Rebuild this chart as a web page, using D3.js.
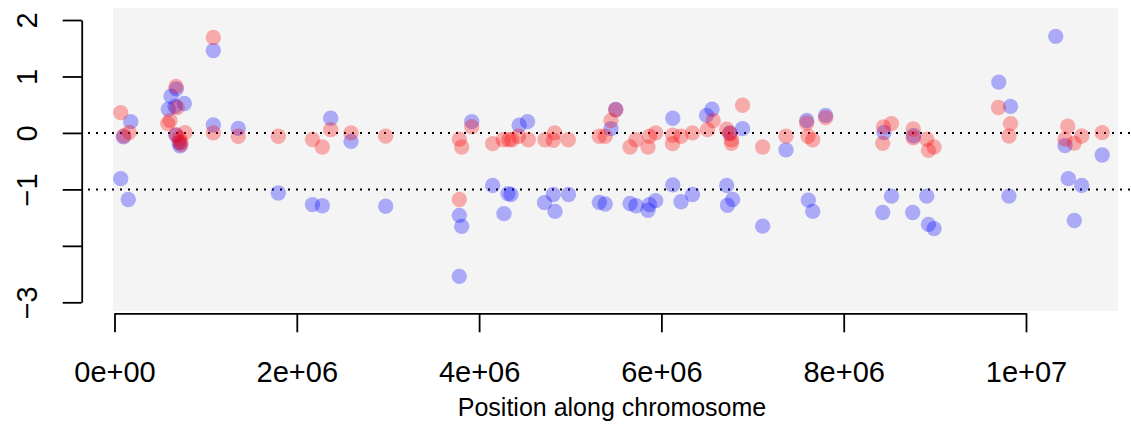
<!DOCTYPE html>
<html>
<head>
<meta charset="utf-8">
<script src="https://cdn.jsdelivr.net/npm/d3@7"></script>
<style>
  body { margin: 0; background: #fff; }
  text { font-family: "Liberation Sans", Arial, Helvetica, sans-serif; fill: #000; }
</style>
</head>
<body>
<script>
// positions are in Mb (multiplied by 1e6 when plotted)
const blueX = [0.068,0.151,0.178,0.097,0.678,0.620,0.590,0.766,0.664,0.719,0.708,0.675,1.084,1.084,1.358,1.797,
  2.172,2.280,2.372,2.595,2.975,3.783,3.809,3.783,3.919,4.149,4.317,4.350,4.273,4.440,4.531,4.718,4.814,4.833,4.981,
  5.319,5.383,5.447,5.499,5.656,5.721,5.853,5.869,5.937,6.125,6.125,6.215,6.341,6.495,6.555,6.750,6.716,6.725,6.782,
  6.890,7.111,7.367,7.594,7.612,7.660,7.802,8.442,8.524,8.428,8.766,8.757,8.911,8.930,8.991,9.701,9.830,9.813,
  10.326,10.428,10.836,10.464,10.611,10.530];
const blueY = [-0.81,-1.18,0.20,-0.07,0.78,0.65,0.42,0.52,0.47,-0.23,-0.17,-0.04,1.46,0.14,0.08,-1.065,
  -1.27,-1.29,0.26,-0.15,-1.30,-1.46,-1.655,-2.54,0.20,-0.93,-1.075,-1.09,-1.43,0.135,0.20,-1.235,-1.09,-1.39,-1.09,
  -1.23,-1.26,0.076,0.415,-1.25,-1.29,-1.37,-1.27,-1.20,0.26,-0.92,-1.22,-1.09,0.31,0.42,0.0,-0.93,-1.28,-1.18,
  0.076,-1.65,-0.30,0.22,-1.19,-1.39,0.31,0.007,-1.12,-1.41,-0.05,-1.41,-1.12,-1.62,-1.695,0.90,0.47,-1.12,
  1.71,-0.225,-0.39,-0.81,-0.93,-1.55];

const redX = [0.068,0.162,0.104,0.675,0.689,0.609,0.584,0.773,0.675,0.711,0.726,0.730,1.084,1.084,1.358,1.797,
  2.172,2.280,2.372,2.595,2.975,3.783,3.809,3.919,3.783,4.149,4.265,4.328,4.361,4.432,4.540,4.723,4.829,4.814,4.979,
  5.319,5.383,5.447,5.499,5.656,5.721,5.853,5.869,5.937,6.125,6.122,6.215,6.341,6.506,6.569,6.716,6.752,6.769,6.769,
  6.890,7.111,7.367,7.594,7.608,7.660,7.802,8.437,8.428,8.524,8.763,8.763,8.911,8.930,8.991,9.698,9.830,9.813,
  10.458,10.428,10.529,10.611,10.836];
const redY = [0.36,0.01,-0.05,0.825,0.45,0.22,0.165,0.005,-0.03,-0.10,-0.16,-0.20,1.69,0.0,-0.06,-0.06,
  -0.117,-0.25,0.058,0.0,-0.057,-0.11,-0.25,0.108,-1.18,-0.19,-0.12,-0.12,-0.12,-0.06,-0.12,-0.12,0.0,-0.13,-0.12,
  -0.06,-0.06,0.22,0.41,-0.25,-0.12,-0.25,-0.06,0.0,-0.04,-0.19,-0.06,0.0,0.058,0.22,0.067,-0.015,-0.12,-0.185,
  0.49,-0.25,-0.057,0.175,-0.06,-0.12,0.27,0.105,-0.185,0.165,0.07,-0.087,-0.11,-0.31,-0.25,0.45,0.165,-0.055,
  0.12,-0.11,-0.18,-0.055,0.005];

const xTicks = [0, 2e6, 4e6, 6e6, 8e6, 1e7];
const xTickLabels = ["0e+00", "2e+06", "4e+06", "6e+06", "8e+06", "1e+07"];
const yTicks = [2, 1, 0, -1, -2, -3];
const yTickLabels = ["2", "1", "0", "\u22121", "", "\u22123"];
const hLines = [0, -1];

const width = 1131, height = 425;
const svg = d3.select("body").append("svg")
  .attr("width", width).attr("height", height);

const x = d3.scaleLinear().domain([0, 1e7]).range([114.5, 1026]);
const y = d3.scaleLinear().domain([-3, 2]).range([302.3, 20]);

// grey panel
svg.append("rect")
  .attr("x", 113).attr("y", 8)
  .attr("width", 1118 - 113).attr("height", 311 - 8)
  .attr("fill", "#f4f4f4");

// dotted reference lines
svg.selectAll("line.h").data(hLines).join("line")
  .attr("class", "h")
  .attr("x1", 88).attr("x2", width)
  .attr("y1", d => y(d)).attr("y2", d => y(d))
  .attr("stroke", "#000").attr("stroke-width", 2)
  .attr("stroke-dasharray", "2,6");

const pts = (xs, ys) => xs.map((v, i) => [v * 1e6, ys[i]]);

svg.append("g").selectAll("circle").data(pts(blueX, blueY)).join("circle")
  .attr("cx", d => x(d[0])).attr("cy", d => y(d[1])).attr("r", 7.7)
  .attr("fill", "rgba(0,0,255,0.3)");

svg.append("g").selectAll("circle").data(pts(redX, redY)).join("circle")
  .attr("cx", d => x(d[0])).attr("cy", d => y(d[1])).attr("r", 7.7)
  .attr("fill", "rgba(255,0,0,0.3)");

// x axis
const xAxis = d3.axisBottom(x).tickValues(xTicks)
  .tickFormat((d, i) => xTickLabels[i]).tickSizeOuter(0).tickSizeInner(19).tickPadding(29);
const gx = svg.append("g").attr("transform", "translate(0,313.3)").call(xAxis);
gx.select(".domain").attr("stroke-width", 1.8);
gx.selectAll(".tick line").attr("stroke-width", 1.8);
gx.selectAll(".tick text").attr("font-size", 29).attr("font-family", "Liberation Sans, Arial, sans-serif");

// y axis
const yAxis = d3.axisLeft(y).tickValues(yTicks)
  .tickFormat((d, i) => yTickLabels[i]).tickSizeOuter(0).tickSizeInner(19);
const gy = svg.append("g").attr("transform", "translate(81.7,0)").call(yAxis);
gy.select(".domain").attr("stroke-width", 1.8);
gy.selectAll(".tick line").attr("stroke-width", 1.8);
gy.selectAll(".tick text")
  .attr("font-size", 29).attr("font-family", "Liberation Sans, Arial, sans-serif")
  .attr("x", 0).attr("dy", 0)
  .attr("text-anchor", "middle")
  .attr("transform", "translate(-44.7,0) rotate(-90)");

svg.append("text")
  .attr("x", 612).attr("y", 416)
  .attr("text-anchor", "middle")
  .attr("font-size", 25)
  .text("Position along chromosome");
</script>
</body>
</html>
